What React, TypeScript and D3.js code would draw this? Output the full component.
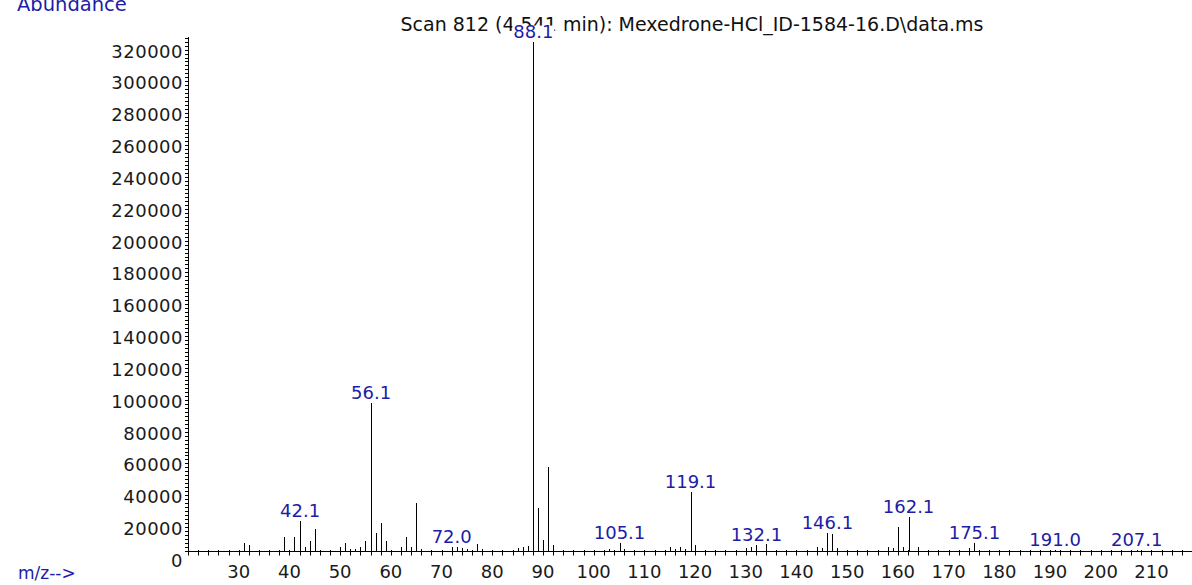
import React from "react";
import * as d3 from "d3";

// peaks
const mz = [
  31, 32, 39, 41, 42.1, 43, 44, 45, 50, 51, 52, 53, 54, 55, 56.1, 57, 58, 59,
  62, 63, 64, 65, 66, 72.0, 73, 74, 75, 77, 78, 85, 86, 87, 88.1, 89, 90, 91,
  92, 103, 105.1, 106, 115, 116, 117, 118, 119.1, 120, 130, 131, 132.1, 134,
  144, 145, 146.1, 147, 148, 158, 159, 160, 161, 162.1, 164, 174, 175.1, 191.0,
  207.1,
];
const abundance = [
  5200, 3800, 9000, 9000, 19000, 2700, 6500, 14000, 2300, 5200, 1500, 1500,
  2300, 6500, 93000, 11500, 17800, 6500, 2700, 9000, 2300, 30300, 1000, 2700,
  2700, 1700, 1300, 4200, 1300, 1700, 2300, 3100, 320000, 26700, 6600, 53000,
  3900, 1500, 5000, 1500, 2500, 1500, 2500, 1500, 36800, 3500, 1700, 2700, 3800,
  4300, 2700, 1700, 11500, 10500, 1700, 2700, 1700, 15200, 2300, 21100, 2300,
  1700, 5000, 500, 500,
];
const labeledPeaks = [42.1, 56.1, 72.0, 88.1, 105.1, 119.1, 132.1, 146.1, 162.1, 175.1, 191.0, 207.1];
const yTickValues = d3.range(0, 320001, 20000);
const xTickLabels = d3.range(30, 211, 10);

const title = "Scan 812 (4.541 min): Mexedrone-HCl_ID-1584-16.D\\data.ms";
const FONT = "DejaVu Sans, sans-serif";
const BLUE = "#1c1ca6";

export default function App() {
  const x = d3.scaleLinear().domain([20, 218]).range([188, 1192]);
  const y = d3.scaleLinear().domain([0, 320000]).range([551, 41.6]);
  const px = (v: number) => Math.round(x(v)) + 0.5;
  const base = Math.round(y(0)) + 0.5;

  const peaks = mz.map((m, i) => ({ m, v: abundance[i] }));
  const yMinor = d3.range(0, 322501, 2500);
  const xMinor = d3.range(20, 218, 2);

  return (
    <div style={{ position: "fixed", left: 0, top: 0 }}>
      <svg width={1192} height={585} style={{ display: "block", background: "#fff" }} fontFamily={FONT}>
        <text x={17} y={11} fontSize={19.5} fill={BLUE}>Abundance</text>
        <text x={692} y={31} fontSize={19} textAnchor="middle" fill="#111">{title}</text>

        {/* y axis */}
        <line x1={188.5} x2={188.5} y1={37} y2={553} stroke="#000" />
        {yMinor.map((v) => (
          <line key={v} x1={185} x2={188} y1={Math.round(y(v)) + 0.5} y2={Math.round(y(v)) + 0.5} stroke="#000" />
        ))}
        {yTickValues.map((v) => (
          <text key={v} x={183} y={y(v) + 16} fontSize={18} letterSpacing={0.5} textAnchor="end" fill="#1a1a1a">{v}</text>
        ))}

        {/* x axis */}
        <line x1={188} x2={1192} y1={base} y2={base} stroke="#000" />
        {xMinor.map((m) => (
          <line key={m} x1={px(m)} x2={px(m)} y1={base - 1.5} y2={base + 4} stroke="#000" />
        ))}
        {xTickLabels.map((m) => (
          <text key={m} x={x(m)} y={578} fontSize={18} textAnchor="middle" fill="#1a1a1a">{m}</text>
        ))}
        <text x={18} y={579} fontSize={17} fill={BLUE}>m/z--&gt;</text>

        {/* peaks */}
        {peaks.map((p) => (
          <line key={p.m} x1={px(p.m)} x2={px(p.m)} y1={base} y2={Math.round(y(p.v))} stroke="#000" />
        ))}
        {peaks
          .filter((p) => labeledPeaks.includes(p.m))
          .map((p) => {
            const label = p.m.toFixed(1);
            const w = label.length * 10.5;
            const ty = y(p.v) - 4;
            return (
              <g key={label}>
                <rect x={x(p.m) - w / 2} y={ty - 12} width={w} height={13} fill="#fff" />
                <text x={x(p.m)} y={ty} fontSize={18} textAnchor="middle" fill={BLUE}>{label}</text>
              </g>
            );
          })}
      </svg>
    </div>
  );
}
